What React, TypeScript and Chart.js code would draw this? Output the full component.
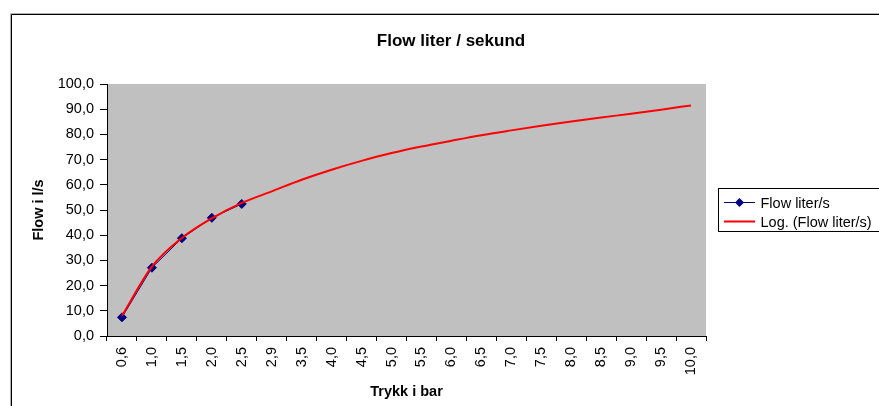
import { useEffect, useRef } from 'react';
import { Chart, registerables } from 'chart.js';

Chart.register(...registerables);

const categories = ['0,6', '1,0', '1,5', '2,0', '2,5', '2,9', '3,5', '4,0', '4,5', '5,0', '5,5', '6,0', '6,5', '7,0', '7,5', '8,0', '8,5', '9,0', '9,5', '10,0'];
const flowValues = [7.4, 27.1, 38.8, 46.9, 52.4];
const trendValues = [8.0, 27.5, 38.9, 46.7, 52.8, 57.4, 62.0, 66.0, 69.5, 72.6, 75.2, 77.5, 79.7, 81.6, 83.4, 85.1, 86.7, 88.2, 89.8, 91.5];
const yMin = 0;
const yMax = 100;
const yStep = 10;

const chartTitle = 'Flow liter / sekund';
const xTitle = 'Trykk i bar';
const yTitle = 'Flow i l/s';
const flowLabel = 'Flow liter/s';
const trendLabel = 'Log. (Flow liter/s)';

const FONT = "'Liberation Sans', Arial, sans-serif";
const W = 902;
const H = 406;

export default function App() {
  const ref = useRef<HTMLCanvasElement>(null);

  useEffect(() => {
    const canvas = ref.current;
    if (!canvas) return;

    const bgPlugin = {
      id: 'xlBackground',
      beforeDraw(chart: any) {
        const { ctx, chartArea: a, width, height } = chart;
        ctx.save();
        ctx.fillStyle = '#ffffff';
        ctx.fillRect(0, 0, width, height);
        ctx.fillStyle = '#C0C0C0';
        ctx.fillRect(a.left, a.top, a.right - a.left, a.bottom - a.top);
        ctx.strokeStyle = '#b0b0b0';
        ctx.lineWidth = 1;
        ctx.beginPath();
        ctx.moveTo(10.5, height + 5);
        ctx.lineTo(10.5, 13.5);
        ctx.lineTo(width - 10.5, 13.5);
        ctx.stroke();
        ctx.strokeStyle = '#000000';
        ctx.beginPath();
        ctx.moveTo(11.5, height + 5);
        ctx.lineTo(11.5, 14.5);
        ctx.lineTo(width - 11.5, 14.5);
        ctx.lineTo(width - 11.5, height + 5);
        ctx.stroke();
        ctx.restore();
      },
    };

    const titlePlugin = {
      id: 'xlTitle',
      afterDraw(chart: any) {
        const { ctx, width } = chart;
        ctx.save();
        ctx.font = `bold 17px ${FONT}`;
        ctx.fillStyle = '#000000';
        ctx.textAlign = 'center';
        ctx.textBaseline = 'alphabetic';
        ctx.fillText(chartTitle, width / 2, 45.5);
        ctx.restore();
      },
    };

    const legendPlugin = {
      id: 'xlLegend',
      afterDraw(chart: any) {
        const { ctx } = chart;
        const ds = chart.data.datasets;
        const flow = ds.find((d: any) => d.label === flowLabel);
        const trend = ds.find((d: any) => d.label === trendLabel);
        const boxX = 718.5;
        const boxY = 188.5;
        const boxW = 168;
        const boxH = 43;
        ctx.save();
        ctx.fillStyle = '#ffffff';
        ctx.fillRect(boxX, boxY, boxW, boxH);
        ctx.strokeStyle = '#000000';
        ctx.lineWidth = 1;
        ctx.strokeRect(boxX, boxY, boxW, boxH);
        const rows = [
          { d: flow, y: 202.5 },
          { d: trend, y: 221.5 },
        ];
        ctx.font = `14.5px ${FONT}`;
        ctx.textBaseline = 'middle';
        ctx.textAlign = 'left';
        rows.forEach(({ d, y }) => {
          if (!d) return;
          ctx.strokeStyle = d.borderColor;
          ctx.lineWidth = d.borderWidth;
          ctx.beginPath();
          ctx.moveTo(724, y);
          ctx.lineTo(755, y);
          ctx.stroke();
          if (d.pointRadius > 0) {
            const r = d.pointRadius;
            const cx = 739.5;
            ctx.fillStyle = d.backgroundColor;
            ctx.beginPath();
            ctx.moveTo(cx, y - r);
            ctx.lineTo(cx + r, y);
            ctx.lineTo(cx, y + r);
            ctx.lineTo(cx - r, y);
            ctx.closePath();
            ctx.fill();
          }
          ctx.fillStyle = '#000000';
          ctx.fillText(d.label, 760.5, y + 1);
        });
        ctx.restore();
      },
    };

    const chart = new Chart(canvas, {
      type: 'line',
      data: {
        labels: categories,
        datasets: [
          {
            label: trendLabel,
            data: trendValues,
            borderColor: '#FF0000',
            backgroundColor: '#FF0000',
            borderWidth: 2,
            pointRadius: 0,
            cubicInterpolationMode: 'monotone',
            order: 0,
          },
          {
            label: flowLabel,
            data: flowValues,
            borderColor: '#000080',
            backgroundColor: '#000080',
            borderWidth: 1,
            pointStyle: 'rectRot',
            pointRadius: 4.5,
            pointBorderWidth: 1,
            pointBorderColor: '#000080',
            pointBackgroundColor: '#000080',
            order: 1,
          },
        ],
      },
      options: {
        responsive: false,
        animation: false,
        devicePixelRatio: 1,
        layout: { padding: { top: 84, left: 0, right: W - 706, bottom: 0 } },
        plugins: {
          legend: { display: false },
          tooltip: { enabled: false },
          title: { display: false },
        },
        scales: {
          x: {
            type: 'category',
            offset: true,
            grid: { offset: true, drawOnChartArea: false, drawTicks: true, tickLength: 5, color: '#000000' },
            border: { display: true, color: '#000000', width: 1 },
            ticks: {
              autoSkip: false,
              maxRotation: 90,
              minRotation: 90,
              padding: 6,
              color: '#000000',
              font: { family: FONT, size: 14.5 },
            },
            title: {
              display: true,
              text: xTitle,
              color: '#000000',
              font: { family: FONT, size: 14.5, weight: 'bold' },
              padding: { top: 0, bottom: 5 },
            },
            afterFit(scale: any) {
              scale.height = 70;
            },
          },
          y: {
            min: yMin,
            max: yMax,
            grid: { drawOnChartArea: false, drawTicks: true, tickLength: 7, color: '#000000' },
            border: { display: true, color: '#000000', width: 1 },
            ticks: {
              stepSize: yStep,
              padding: 6,
              color: '#000000',
              font: { family: FONT, size: 14.5 },
              callback: (v: any) => Number(v).toFixed(1).replace('.', ','),
            },
            title: {
              display: true,
              text: yTitle,
              color: '#000000',
              font: { family: FONT, size: 14.5, weight: 'bold' },
              padding: { top: 30, bottom: 0 },
            },
            afterFit(scale: any) {
              scale.width = 107;
            },
          },
        },
      },
      plugins: [bgPlugin, titlePlugin, legendPlugin],
    } as any);

    return () => chart.destroy();
  }, []);

  return (
    <div style={{ position: 'fixed', left: 0, top: 0, width: 879, height: 406, overflow: 'hidden', background: '#fff' }}>
      <canvas ref={ref} width={W} height={H} style={{ width: W, height: H, display: 'block' }} />
    </div>
  );
}
